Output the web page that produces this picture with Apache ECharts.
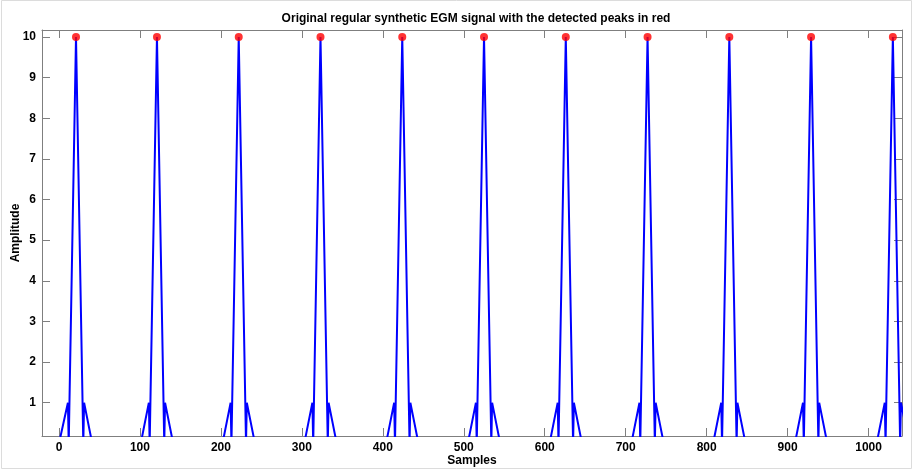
<!DOCTYPE html>
<html><head><meta charset="utf-8">
<script src="https://cdn.jsdelivr.net/npm/echarts@6/dist/echarts.min.js"></script>
<style>html,body{margin:0;padding:0;background:#fff}#c{width:918px;height:473px}</style>
</head><body><div id="c"></div>
<script>
// Detected peak positions (samples) and their amplitudes
const peakSamples = [21, 121, 222, 323, 424, 525, 626, 727, 828, 929, 1030];
const peakValues = [10, 10, 10, 10, 10, 10, 10, 10, 10, 10, 10];
// Shape of one synthetic EGM complex, relative to its peak
const pulseOffsets = [-20, -10, -9, 0, 9, 10, 20];
const pulseValues = [0, 1, 0, 10, 0, 1, 0];
const signalFirstSample = 0;
const signalLastSample = 1041;
const xTickValues = [0, 100, 200, 300, 400, 500, 600, 700, 800, 900, 1000];
const yTickValues = [1, 2, 3, 4, 5, 6, 7, 8, 9, 10];

const signal = [[signalFirstSample, 0]];
peakSamples.forEach(p => {
  pulseOffsets.forEach((o, i) => signal.push([p + o, pulseValues[i]]));
});
signal.push([signalLastSample + 10, 0]);
const peaks = peakSamples.map((p, i) => [p, peakValues[i]]);

const FONT = "'Liberation Sans', Arial, sans-serif";
const axisGray = '#7f7f7f';
const X0 = -21, X1 = 1041.3, Y0 = 0.18, Y1 = 10.17;

function xAx(pos, show) {
  return {
    type: 'value', position: pos, min: X0, max: X1,
    name: show ? 'Samples' : '', nameLocation: 'middle', nameGap: 19, nameMoveOverlap: false,
    nameTextStyle: {fontFamily: FONT, fontWeight: 'bold', fontSize: 12, color: '#000'},
    axisLine: {show: true, onZero: false, lineStyle: {color: axisGray, width: 1}},
    axisTick: {show: true, inside: true, length: 8, customValues: xTickValues, lineStyle: {color: axisGray}},
    axisLabel: {show: show, customValues: xTickValues, margin: 6, formatter: v => String(v),
      fontFamily: FONT, fontWeight: 'bold', fontSize: 12, color: '#000'},
    splitLine: {show: false}
  };
}
function yAx(pos, show) {
  return {
    type: 'value', position: pos, min: Y0, max: Y1,
    name: show ? 'Amplitude' : '', nameLocation: 'middle', nameGap: 20, nameMoveOverlap: false,
    nameTextStyle: {fontFamily: FONT, fontWeight: 'bold', fontSize: 12, color: '#000'},
    axisLine: {show: true, onZero: false, lineStyle: {color: axisGray, width: 1}},
    axisTick: {show: true, inside: true, length: 8, customValues: yTickValues, lineStyle: {color: axisGray}},
    axisLabel: {show: show, customValues: yTickValues, margin: 6, formatter: v => String(v),
      fontFamily: FONT, fontWeight: 'bold', fontSize: 12, color: '#000'},
    splitLine: {show: false}
  };
}

const chart = echarts.init(document.getElementById('c'), null, {renderer: 'canvas'});
chart.setOption({
  animation: false,
  backgroundColor: '#fff',
  title: {
    text: 'Original regular synthetic EGM signal with the detected peaks in red',
    left: 471, top: 8, textAlign: 'center',
    textStyle: {fontFamily: FONT, fontWeight: 'bold', fontSize: 12, color: '#000'}
  },
  graphic: [{
    type: 'rect', shape: {x: 1.5, y: 0.5, width: 910, height: 468},
    style: {fill: 'none', stroke: '#dcdcdc', lineWidth: 1}, silent: true, z: -1
  }],
  grid: {left: 42, right: 16, top: 30, bottom: 37, containLabel: false, outerBoundsMode: 'none'},
  xAxis: [xAx('bottom', true), xAx('top', false)],
  yAxis: [yAx('left', true), yAx('right', false)],
  series: [{
    type: 'line', data: signal, xAxisIndex: 0, yAxisIndex: 0,
    showSymbol: false, symbol: 'none', clip: true,
    lineStyle: {color: '#0000ff', width: 2}, z: 2
  }, {
    type: 'scatter', data: peaks, xAxisIndex: 0, yAxisIndex: 0,
    symbol: 'circle', symbolSize: 8, clip: false,
    itemStyle: {color: '#ff0000'}, z: 3
  }]
});
</script></body></html>
